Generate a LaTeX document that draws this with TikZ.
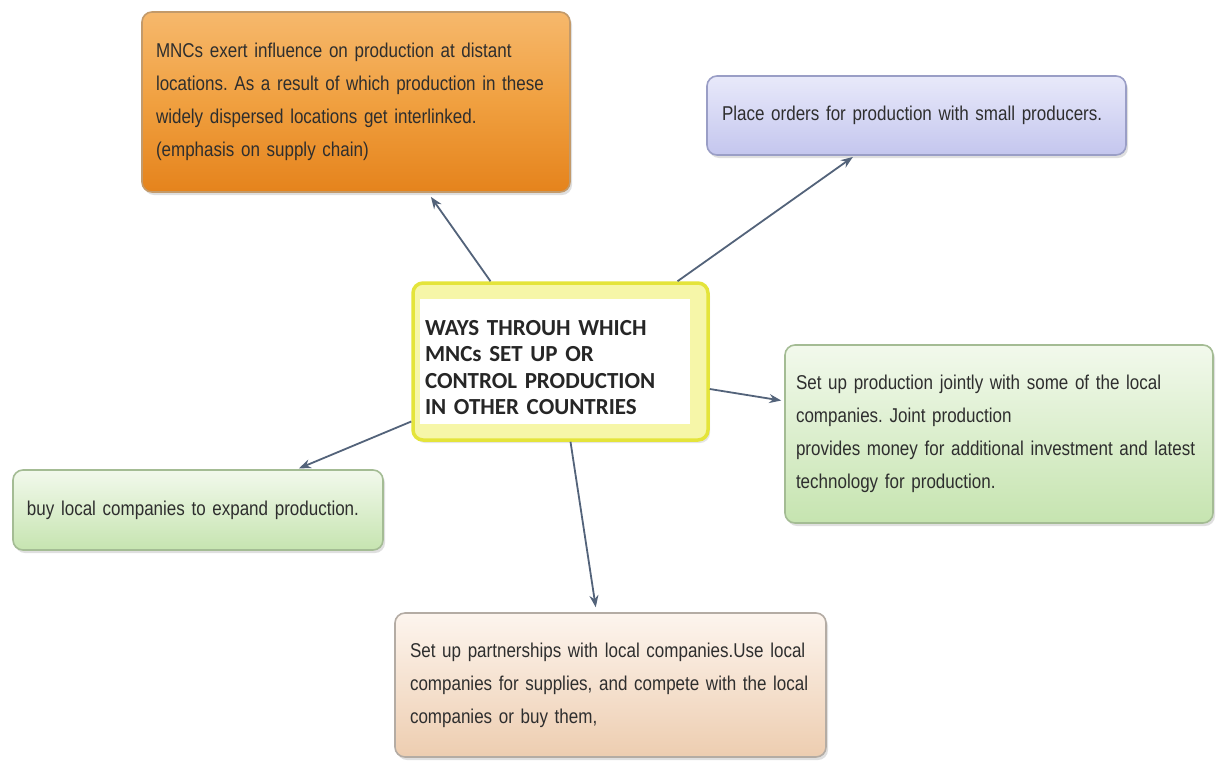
\documentclass[tikz,border=0pt]{standalone}
\usepackage{fontspec}
\setmainfont{Liberation Sans}
\newfontfamily\narrowfont[FakeStretch=0.85]{Liberation Sans}
\newfontfamily\titlefont{Carlito}
\usetikzlibrary{arrows.meta,shadows,calc}
\hyphenpenalty=10000
\exhyphenpenalty=10000
\definecolor{orTop}{HTML}{F6B86C}
\definecolor{orMid}{HTML}{F0A040}
\definecolor{orBot}{HTML}{E5831C}
\definecolor{orLine}{HTML}{C39A6A}
\definecolor{blTop}{HTML}{E8E9FA}
\definecolor{blBot}{HTML}{C4C6EE}
\definecolor{blLine}{HTML}{9A9EC6}
\definecolor{grTop}{HTML}{F2F9EC}
\definecolor{grBot}{HTML}{C6E4B0}
\definecolor{grLine}{HTML}{A4BC94}
\definecolor{peTop}{HTML}{FDF5EE}
\definecolor{peBot}{HTML}{EDCDB0}
\definecolor{peLine}{HTML}{B4ACA4}
\definecolor{yeLine}{HTML}{E4E43A}
\definecolor{yeFill}{HTML}{F6F6A8}
\definecolor{arrowcol}{HTML}{53637A}
\definecolor{txt}{HTML}{2E2E2E}
\tikzset{
  box/.style={rounded corners=10pt, line width=1.6pt, align=left,
    inner xsep=14pt, inner ysep=4pt, anchor=center,
    font=\narrowfont\fontsize{20}{33}\selectfont\frenchspacing, text=txt,
    drop shadow={opacity=0.25, shadow xshift=2pt, shadow yshift=-3pt}},
  orangebox/.style={box, draw=orLine, top color=orTop, bottom color=orBot, middle color=orMid},
  bluebox/.style={box, draw=blLine, top color=blTop, bottom color=blBot},
  greenbox/.style={box, draw=grLine, top color=grTop, bottom color=grBot},
  peachbox/.style={box, draw=peLine, top color=peTop, bottom color=peBot},
  centerbox/.style={rounded corners=10pt, line width=3.5pt, draw=yeLine, fill=yeFill,
    drop shadow={opacity=0.2, shadow xshift=2pt, shadow yshift=-3pt}},
  centertext/.style={fill=white, align=left, inner xsep=5pt, inner ysep=6pt,
    font=\titlefont\bfseries\fontsize{23}{26.5}\selectfont, text=black!85},
  conn/.style={-{Stealth[length=12pt,width=9pt]}, draw=arrowcol, line width=1.8pt}
}
\begin{document}
\begin{tikzpicture}[x=1pt,y=-1pt]
\useasboundingbox (0,0) rectangle (1217,761);
\fill[white] (0,0) rectangle (1217,761);

\node[orangebox, minimum width=428pt, minimum height=180pt, text width=400pt] (o) at (356,102)
  {MNCs exert influence on production at distant\\
   locations. As a result of which production in these\\
   widely dispersed locations get interlinked.\\
   (emphasis on supply chain)};

\node[bluebox, minimum width=419pt, minimum height=79pt, text width=389pt] (b) at (916.5,115.5)
  {Place orders for production with small producers.};

\node[centerbox, minimum width=295pt, minimum height=157pt] (c) at (560.5,361.5) {};
\node[centertext, minimum width=270pt, minimum height=125pt, text width=260pt] (ct) at (555,361)
  {\rule{0pt}{28pt}WAYS THROUH WHICH\\ MNCs SET UP OR\\ CONTROL PRODUCTION\\ IN OTHER COUNTRIES};

\node[greenbox, minimum width=428pt, minimum height=178pt, text width=406pt, inner xsep=11pt] (g) at (999,434)
  {Set up production jointly with some of the local\\
   companies. Joint production\\
   provides money for additional investment and latest\\
   technology for production.};

\node[greenbox, minimum width=370pt, minimum height=80pt, text width=342pt] (l) at (198,510)
  {buy local companies to expand production.};

\node[peachbox, minimum width=431pt, minimum height=144pt, text width=401pt] (p) at (610.5,685)
  {Set up partnerships with local companies.Use local\\
   companies for supplies, and compete with the local\\
   companies or buy them,};

\draw[conn, shorten >=5pt] ([xshift=-70pt]c.north) -- ([xshift=72pt]o.south);
\draw[conn, shorten >=2pt] ([xshift=117pt]c.north) -- ([xshift=-62pt]b.south);
\draw[conn, shorten >=3pt] ([yshift=-27.5pt]c.east) -- ([yshift=33pt]g.west);
\draw[conn, shorten >=2pt] ([yshift=-60pt]c.west) -- ([xshift=99pt]l.north);
\draw[conn, shorten >=5pt] ([xshift=10pt]c.south) -- ([xshift=-14pt]p.north);
\end{tikzpicture}
\end{document}
